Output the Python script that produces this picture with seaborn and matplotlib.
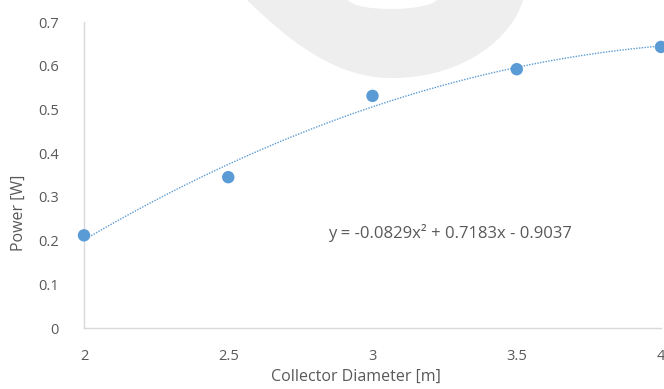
import numpy as np
import pandas as pd
import matplotlib
matplotlib.use("Agg")
import matplotlib.pyplot as plt
from matplotlib.path import Path
from matplotlib.patches import PathPatch
import seaborn as sns

diameter = [2.0, 2.5, 3.0, 3.5, 4.0]
power = [0.212, 0.345, 0.531, 0.592, 0.643]
x_ticks = [2, 2.5, 3, 3.5, 4]
x_tick_labels = ["2", "2.5", "3", "3.5", "4"]
y_ticks = [0, 0.1, 0.2, 0.3, 0.4, 0.5, 0.6, 0.7]
y_tick_labels = ["0", "0.1", "0.2", "0.3", "0.4", "0.5", "0.6", "0.7"]
equation = "y = -0.0829x² + 0.7183x - 0.9037"

df = pd.DataFrame({"Collector Diameter [m]": diameter, "Power [W]": power})

sns.set_theme(style="white")
plt.rcParams["font.family"] = ["Open Sans", "DejaVu Sans"]

W, H = 664, 389
fig = plt.figure(figsize=(W / 100, H / 100), dpi=100)
fig.patch.set_facecolor("white")

# decorative light-grey watermark shape (figure pixel coords), smooth Bezier outline
shape = [
    ((247, -10), Path.MOVETO),
    ((247, 0), Path.LINETO),
    ((300, 52), Path.CURVE4), ((345, 80), Path.CURVE4), ((397, 78), Path.CURVE4),
    ((465, 76), Path.CURVE4), ((512, 38), Path.CURVE4), ((523, 0), Path.CURVE4),
    ((524, -10), Path.LINETO),
    ((437, -10), Path.LINETO),
    ((437, 0), Path.LINETO),
    ((428, 11), Path.CURVE4), ((358, 13), Path.CURVE4), ((348, 0), Path.CURVE4),
    ((348, -10), Path.LINETO),
    ((247, -10), Path.CLOSEPOLY),
]
verts = [(x / W, 1 - y / H) for (x, y), _ in shape]
codes = [c for _, c in shape]
fig.patches.append(PathPatch(Path(verts, codes), facecolor="#eeeeee", edgecolor="none",
                             transform=fig.transFigure, zorder=0))

left, right, top, bottom = 84, 661, 22, 328
ax = fig.add_axes([left / W, 1 - bottom / H, (right - left) / W, (bottom - top) / H])
ax.set_facecolor("none")

blue = "#5b9bd5"
sns.regplot(data=df, x="Collector Diameter [m]", y="Power [W]", order=2, ci=None, ax=ax,
            scatter_kws=dict(s=80, color=blue, alpha=1, edgecolor="none", zorder=3, clip_on=False),
            line_kws=dict(color=blue, lw=1.0, ls=(0, (1, 1)), zorder=2))

ax.set_xlim(2, 4)
ax.set_ylim(0, 0.7)
ax.set_xticks(x_ticks)
ax.set_xticklabels(x_tick_labels)
ax.set_yticks(y_ticks)
ax.set_yticklabels(y_tick_labels)

txt = "#595959"
ax.tick_params(axis="both", length=0, labelsize=10.5, labelcolor=txt)
ax.tick_params(axis="x", pad=15)
ax.tick_params(axis="y", pad=18)

for s in ["top", "right"]:
    ax.spines[s].set_visible(False)
for s in ["left", "bottom"]:
    ax.spines[s].set_color("#d9d9d9")
    ax.spines[s].set_linewidth(1.0)

ax.set_xlabel("Collector Diameter [m]", fontsize=11.5, color=txt)
ax.set_ylabel("Power [W]", fontsize=11.5, color=txt)
ax.xaxis.set_label_coords(0.471, -0.135)
ax.yaxis.set_label_coords(-0.099, 0.376)

ax.text(0.635, 0.31, equation, transform=ax.transAxes, ha="center", va="center",
        fontsize=12, color=txt)

fig.savefig("out.png", dpi=100)
